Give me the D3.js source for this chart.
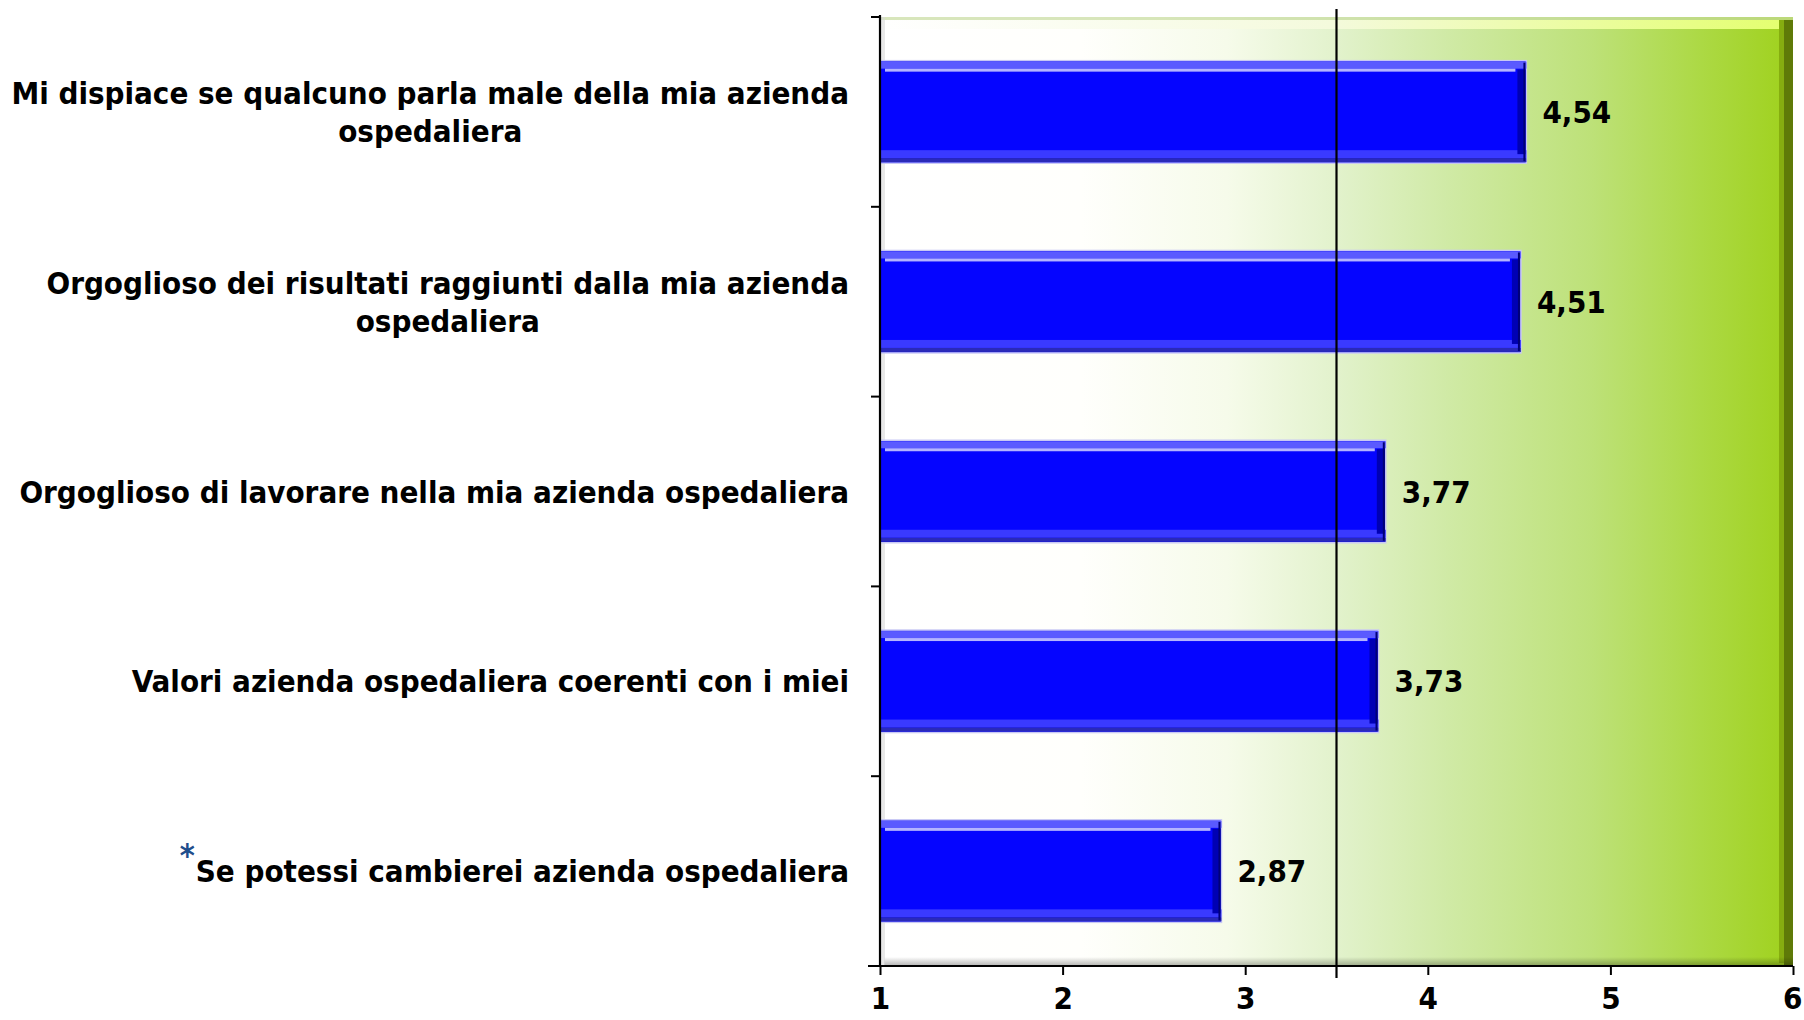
<!DOCTYPE html>
<html>
<head>
<meta charset="utf-8">
<script src="https://cdn.jsdelivr.net/npm/d3@7"></script>
<style>
  body { margin: 0; background: #fff; }
  text { font-family: "DejaVu Sans Condensed", "DejaVu Sans", sans-serif; font-weight: bold; }
</style>
</head>
<body>
<svg width="1804" height="1020"></svg>
<script>
// dati
var labels = [
  ["Mi dispiace se qualcuno parla male della mia azienda", "ospedaliera"],
  ["Orgoglioso dei risultati raggiunti dalla mia azienda", "ospedaliera"],
  ["Orgoglioso di lavorare nella mia azienda ospedaliera"],
  ["Valori azienda ospedaliera coerenti con i miei"],
  ["Se potessi cambierei azienda ospedaliera"]
];
var values = [4.54, 4.51, 3.77, 3.73, 2.87];
var starred = [false, false, false, false, true];
var ticks = [1, 2, 3, 4, 5, 6];
var refValue = 3.5;

var svg = d3.select("svg");
var pLeft = 880, pRight = 1793, pTop = 17, pBottom = 966;

var x = d3.scaleLinear().domain([1, 6]).range([pLeft, pRight]);
var y = d3.scaleBand().domain(d3.range(values.length)).range([pTop, pBottom]).paddingInner(0.46).paddingOuter(0.23);

var defs = svg.append("defs");
var bg = defs.append("linearGradient").attr("id", "bg");
[[0, "#ffffff"], [0.22, "#fffffc"], [0.38, "#f6fbea"], [0.5, "#e2f2cc"], [0.62, "#d0eaa6"], [0.78, "#bde178"], [0.9, "#acd944"], [1, "#9fd11c"]]
  .forEach(function(s) { bg.append("stop").attr("offset", s[0]).attr("stop-color", s[1]); });

// sfondo dell'area
svg.append("rect").attr("x", pLeft).attr("y", pTop).attr("width", pRight - pLeft).attr("height", pBottom - pTop).attr("fill", "url(#bg)");
// bordo superiore chiaro
var tg = defs.append("linearGradient").attr("id", "topEdge");
tg.append("stop").attr("offset", 0).attr("stop-color", "#ffffff");
tg.append("stop").attr("offset", 0.5).attr("stop-color", "#f4fadc");
tg.append("stop").attr("offset", 1).attr("stop-color", "#e4ff70");
svg.append("rect").attr("x", pLeft).attr("y", pTop).attr("width", pRight - pLeft).attr("height", 3).attr("fill", "#c8dca0").attr("opacity", 0.7);
svg.append("rect").attr("x", pLeft).attr("y", pTop + 3).attr("width", pRight - pLeft - 10).attr("height", 9).attr("fill", "url(#topEdge)");
// bordo destro scuro
svg.append("rect").attr("x", pRight - 14).attr("y", pTop + 3).attr("width", 5).attr("height", pBottom - pTop - 6).attr("fill", "#86ad10");
svg.append("rect").attr("x", pRight - 9).attr("y", pTop + 3).attr("width", 9).attr("height", pBottom - pTop - 3).attr("fill", "#5f7a08");
// ombra inferiore
var sg = defs.append("linearGradient").attr("id", "shadow").attr("x1", 0).attr("x2", 0).attr("y1", 0).attr("y2", 1);
sg.append("stop").attr("offset", 0).attr("stop-color", "#000").attr("stop-opacity", 0);
sg.append("stop").attr("offset", 1).attr("stop-color", "#000").attr("stop-opacity", 0.3);
svg.append("rect").attr("x", pLeft + 4).attr("y", pBottom - 9).attr("width", pRight - pLeft - 4).attr("height", 9).attr("fill", "url(#shadow)");
svg.append("rect").attr("x", pLeft).attr("y", pTop).attr("width", 5).attr("height", pBottom - pTop).attr("fill", "#d8d8d8").attr("opacity", 0.6);

// barre
var bars = svg.append("g").selectAll("g").data(values).enter().append("g");
bars.append("rect")
  .attr("x", x(1)).attr("y", function(d, i) { return y(i); })
  .attr("width", function(d) { return x(d) - x(1); })
  .attr("height", y.bandwidth())
  .attr("fill", "#0505ff").attr("stroke", "#c8c8f4").attr("stroke-width", 1.5);
// riflesso in alto
bars.append("rect")
  .attr("x", x(1)).attr("y", function(d, i) { return y(i) + 1; })
  .attr("width", function(d) { return x(d) - x(1); })
  .attr("height", 7).attr("fill", "#5a5aff");
bars.append("rect")
  .attr("x", x(1) + 5).attr("y", function(d, i) { return y(i) + 8; })
  .attr("width", function(d) { return x(d) - x(1) - 16; })
  .attr("height", 3).attr("fill", "#b4b4ff");
// bordo inferiore
bars.append("rect")
  .attr("x", x(1)).attr("y", function(d, i) { return y(i) + y.bandwidth() - 13; })
  .attr("width", function(d) { return x(d) - x(1); })
  .attr("height", 8).attr("fill", "#3a3aff");
bars.append("rect")
  .attr("x", x(1)).attr("y", function(d, i) { return y(i) + y.bandwidth() - 5; })
  .attr("width", function(d) { return x(d) - x(1); })
  .attr("height", 4).attr("fill", "#2a2ab8");
// bordo destro
bars.append("rect")
  .attr("x", function(d) { return x(d) - 9; }).attr("y", function(d, i) { return y(i) + 9; })
  .attr("width", 8).attr("height", y.bandwidth() - 18).attr("fill", "#0000b4");
bars.append("rect")
  .attr("x", function(d) { return x(d) - 3; }).attr("y", function(d, i) { return y(i) + 2; })
  .attr("width", 2).attr("height", y.bandwidth() - 4).attr("fill", "#000078");

// valori
bars.append("text")
  .attr("x", function(d) { return x(d) + 16; })
  .attr("y", function(d, i) { return y(i) + y.bandwidth() / 2; })
  .attr("dy", "0.36em").attr("font-size", 31).attr("fill", "#000")
  .text(function(d) { return d.toFixed(2).replace(".", ","); });

// linea di riferimento
svg.append("line").attr("x1", x(refValue)).attr("x2", x(refValue)).attr("y1", 9).attr("y2", 978)
  .attr("stroke", "#000").attr("stroke-width", 2.2);

// assi
var ax = svg.append("g").attr("transform", "translate(0," + pBottom + ")")
  .call(d3.axisBottom(x).tickValues(ticks).tickSize(9).tickPadding(12).tickFormat(d3.format("d")));
ax.select(".domain").attr("stroke-width", 2.2).attr("d", "M" + (pLeft - 12) + ",0H" + pRight);
ax.selectAll(".tick line").attr("stroke-width", 2);
ax.selectAll(".tick text").attr("font-size", 31).attr("font-family", "DejaVu Sans Condensed, DejaVu Sans").attr("font-weight", "bold").attr("fill", "#000");
ax.selectAll(".tick text").filter(function(d) { return d === 6; }).attr("text-anchor", "end").attr("dx", 9);

var bounds = d3.range(values.length + 1).map(function(i) { return pTop + i * (pBottom - pTop) / values.length; });
svg.append("line").attr("x1", pLeft).attr("x2", pLeft).attr("y1", pTop - 2).attr("y2", pBottom).attr("stroke", "#000").attr("stroke-width", 2.2);
svg.append("g").selectAll("line").data(bounds).enter().append("line")
  .attr("x1", pLeft - 9).attr("x2", pLeft).attr("y1", function(d) { return d; }).attr("y2", function(d) { return d; })
  .attr("stroke", "#000").attr("stroke-width", 2);

// etichette categorie
var lab = svg.append("g").selectAll("text").data(labels).enter().append("text")
  .attr("text-anchor", "middle").attr("font-size", 31).attr("fill", "#000")
  .attr("y", function(d, i) { return y(i) + y.bandwidth() / 2; });
lab.each(function(d) {
  var t = d3.select(this);
  d.forEach(function(line, k) {
    t.append("tspan").attr("x", 0)
      .attr("dy", k === 0 ? (0.36 - (d.length - 1) * 0.62) + "em" : "1.24em")
      .text(line);
  });
});
// allineamento: la prima riga finisce a 849, la seconda resta centrata sotto
lab.each(function(d) {
  var t = d3.select(this);
  var w = t.select("tspan").node().getComputedTextLength();
  t.attr("transform", "translate(" + (849 - w / 2) + ",0)");
});
lab.filter(function(d, i) { return starred[i]; }).each(function(d) {
  var w = d3.select(this).select("tspan").node().getComputedTextLength();
  var i = starred.indexOf(true);
  svg.append("text").attr("x", 849 - w - 1).attr("y", y(i) + y.bandwidth() / 2 - 5)
    .attr("text-anchor", "end").attr("font-size", 32).attr("font-weight", "normal")
    .attr("fill", "#1f4e8c").text("*");
});
</script>
</body>
</html>
